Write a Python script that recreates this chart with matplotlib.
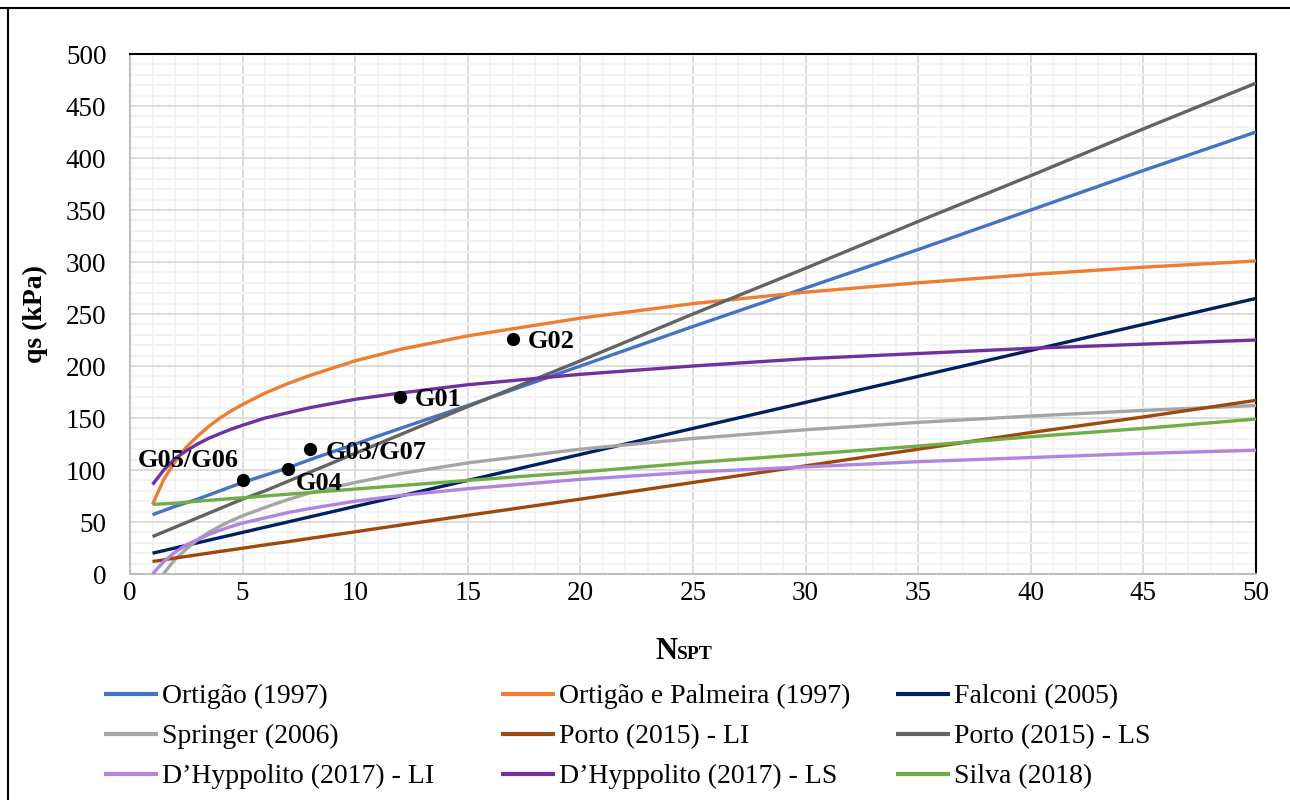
import matplotlib
matplotlib.use("Agg")
import matplotlib.pyplot as plt
from matplotlib.lines import Line2D
from matplotlib.ticker import MultipleLocator

plt.rcParams['font.family'] = ['Liberation Serif', 'DejaVu Serif']

# ---- data ----
n_spt = [1, 1.5, 2, 2.5, 3, 3.5, 4, 4.5, 5, 6, 7, 8, 10, 12, 15, 20, 25, 30, 35, 40, 45, 50]

ortigao = [57, 61, 65, 68.5, 72, 76, 80, 84, 88, 95, 102, 110, 125, 140, 162, 200, 238, 275, 312, 350, 388, 425]
ortigao_palmeira = [67, 91, 108, 122, 132.5, 142, 150, 157, 163, 174, 183, 191, 205, 216, 229, 246, 260, 271, 280, 288, 295, 301]
falconi = [20, 22.5, 25, 27.5, 30, 32.5, 35, 37.5, 40, 45, 50, 55, 65, 75, 90, 115, 140, 165, 190, 215, 240, 265]
springer = [-18, 0.6, 14, 24, 33, 40, 46, 51.3, 56, 64, 71.5, 78, 88, 96.5, 106.8, 120, 130.3, 138.7, 145.8, 151.9, 157.3, 162]
porto_li = [12, 13.6, 15.3, 16.9, 18.5, 20.1, 21.7, 23.2, 24.8, 28, 31, 34.3, 40.6, 47, 56.4, 72, 88, 104, 120, 136, 151, 167]
porto_ls = [36, 40.5, 45, 49.5, 54, 58.5, 63, 67.5, 72, 80, 89, 98, 116, 134, 161, 205, 250, 294, 339, 383, 428, 472]
dhyp_li = [0, 12, 21, 28, 33, 38, 42, 45.7, 49, 54, 59, 63, 70, 75.5, 82, 91, 98, 103, 108, 112, 116, 119]
dhyp_ls = [86, 100, 111, 118.5, 125, 130.5, 135, 139.3, 143, 150, 155, 160, 168, 174, 182, 192, 200, 207, 212, 217, 221, 225]
silva = [67, 67.5, 68, 69, 70, 70.8, 71.7, 72.5, 73.3, 75, 76.7, 78.3, 81.7, 85, 90, 98, 107, 115, 123, 132, 140, 149]

series_labels = ["Ortigão (1997)", "Ortigão e Palmeira (1997)", "Falconi (2005)",
                 "Springer (2006)", "Porto (2015) - LI", "Porto (2015) - LS",
                 "D\u2019Hyppolito (2017) - LI", "D\u2019Hyppolito (2017) - LS", "Silva (2018)"]
series_values = [ortigao, ortigao_palmeira, falconi, springer, porto_li, porto_ls,
                 dhyp_li, dhyp_ls, silva]
series_colors = ["#4472C4", "#ED7D31", "#002060", "#A5A5A5", "#9E480E", "#636363",
                 "#B085E0", "#7030A0", "#70AD47"]

point_names = ["G05/G06", "G04", "G03/G07", "G01", "G02"]
point_n = [5, 7, 8, 12, 17]
point_qs = [90, 101, 120, 170, 226]
point_offsets = [(-54, 20), (8, -15), (16, -3), (15, -2), (15, -3)]
point_ha = ["center", "left", "left", "left", "left"]

x_ticks = list(range(0, 51, 5))
y_ticks = list(range(0, 501, 50))

# ---- figure ----
fig = plt.figure(figsize=(12.9, 8.0), dpi=100)
ax = fig.add_axes([130 / 1290, 1 - 574 / 800, (1256 - 130) / 1290, (574 - 54) / 800])

lines = []
for vals, col, lab in zip(series_values, series_colors, series_labels):
    ln, = ax.plot(n_spt, vals, color=col, lw=2.4, label=lab, solid_capstyle='butt',
                  solid_joinstyle='round', zorder=3)
    lines.append(ln)

ax.plot(point_n, point_qs, 'o', color='black', ms=8.5, zorder=5)
for name, xn, yq, off, ha in zip(point_names, point_n, point_qs, point_offsets, point_ha):
    ax.annotate(name, (xn, yq), xytext=off, textcoords='offset pixels',
                ha=ha, va='center', fontsize=19, fontweight='bold', zorder=6)

ax.set_xlim(0, 50)
ax.set_ylim(0, 500)
ax.set_xticks(x_ticks)
ax.set_yticks(y_ticks)
ax.xaxis.set_minor_locator(MultipleLocator(1))
ax.yaxis.set_minor_locator(MultipleLocator(10))
ax.grid(which='major', color='#D9D9D9', lw=1.3, zorder=0)
ax.grid(which='minor', color='#F2F2F2', lw=1.3, zorder=0)
ax.set_axisbelow(True)
ax.tick_params(which='both', length=0)
ax.tick_params(axis='y', pad=17, labelsize=19.5)
ax.tick_params(axis='x', pad=5, labelsize=19.5)
for s in ['left', 'bottom']:
    ax.spines[s].set_color('#BFBFBF')
    ax.spines[s].set_linewidth(1.5)
for s in ['top', 'right']:
    ax.spines[s].set_color('black')
    ax.spines[s].set_linewidth(1.5)

# axis titles
fig.text(35 / 1290, 1 - 314 / 800, "qs (kPa)", rotation=90, ha='center', va='center',
         fontsize=20, fontweight='bold')
fig.text(677 / 1290, 1 - 659 / 800, "N", ha='right', va='baseline', fontsize=22, fontweight='bold')
fig.text(677 / 1290, 1 - 659 / 800, "SPT", ha='left', va='baseline', fontsize=14, fontweight='bold')

# legend: three columns placed like the reference
col_x = [104, 501, 896]
for c in range(3):
    hs = [lines[r * 3 + c] for r in range(3)]
    ls = [series_labels[r * 3 + c] for r in range(3)]
    leg = fig.legend(hs, ls, loc='upper left', bbox_to_anchor=(col_x[c] / 1290, 1 - 684 / 800),
                     frameon=False, fontsize=20, handlelength=1.95, handletextpad=0.15,
                     labelspacing=0.52, borderpad=0, borderaxespad=0)
    for h in leg.legend_handles:
        h.set_linewidth(3.0)

# outer frame lines (top and left)
fig.add_artist(Line2D([0, 1], [1 - 7.5 / 800, 1 - 7.5 / 800], transform=fig.transFigure,
                      color='black', lw=1.5))
fig.add_artist(Line2D([7.5 / 1290, 7.5 / 1290], [0, 1 - 7.5 / 800], transform=fig.transFigure,
                      color='black', lw=1.5))

fig.savefig("out.png", dpi=100)
